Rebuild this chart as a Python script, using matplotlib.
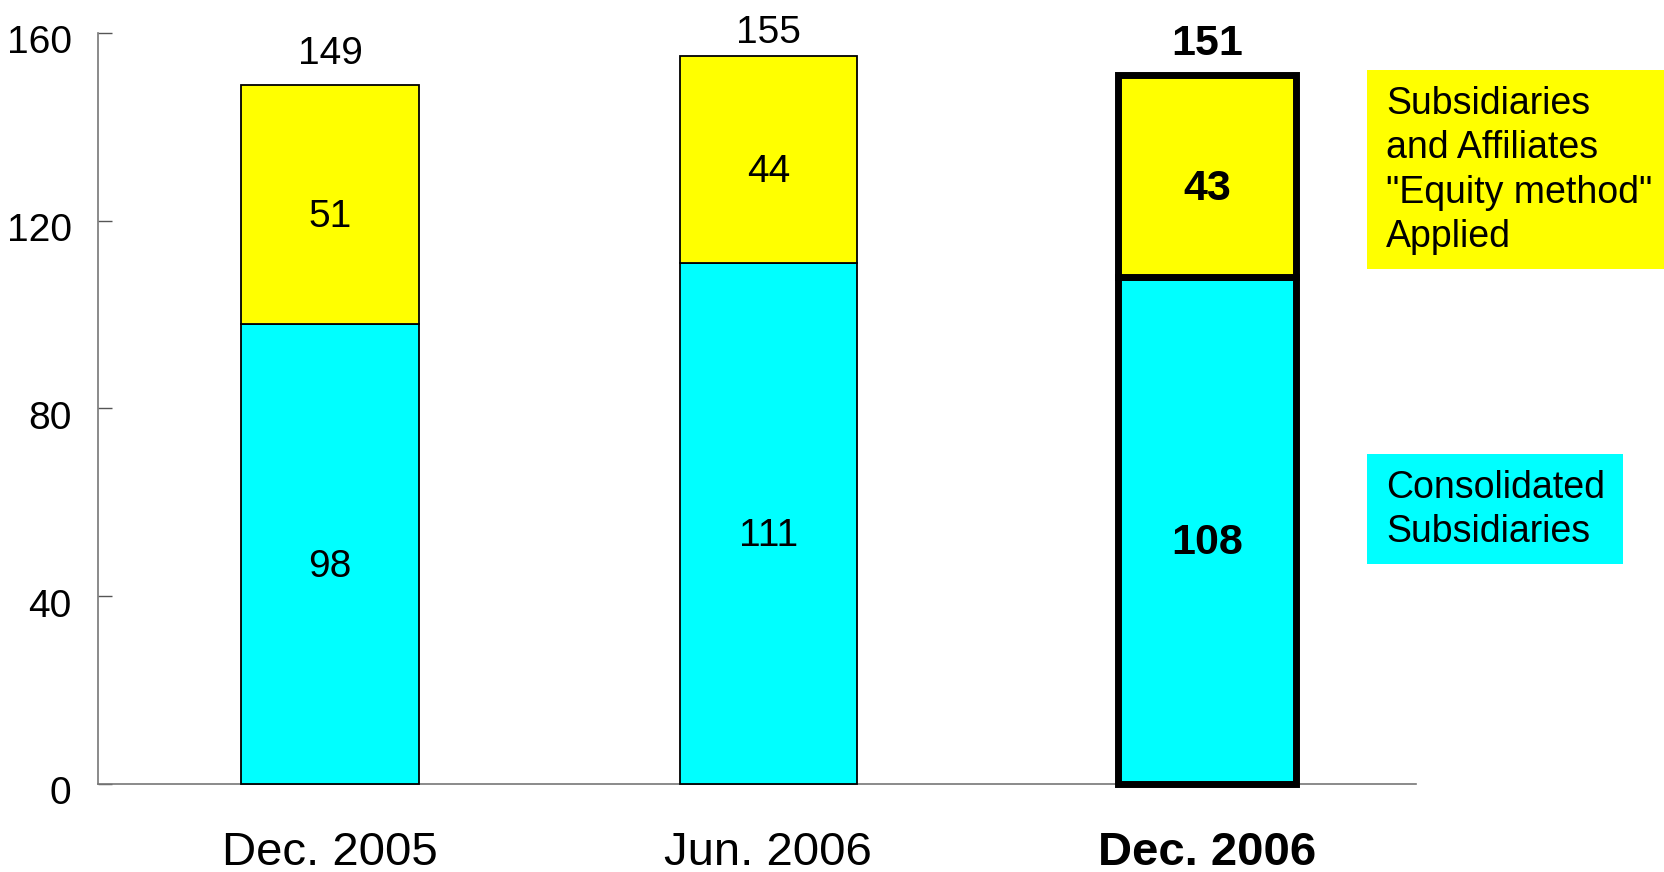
import matplotlib.pyplot as plt
import matplotlib.transforms as mtransforms
from matplotlib.patches import Rectangle

plt.rcParams['font.family'] = ['Liberation Sans', 'DejaVu Sans']

# data
periods = ["Dec. 2005", "Jun. 2006", "Dec. 2006"]
consolidated = [98, 111, 108]
equity_method = [51, 44, 43]
totals = [149, 155, 151]

label_lift = [9, 4, 8]          # points above bar top for total labels
bar_width = 0.405

yellow = "#FFFF00"
cyan = "#00FFFF"

W, H = 1665, 872
fig = plt.figure(figsize=(W / 100, H / 100), dpi=100)
ax = fig.add_axes([98 / W, 1 - 784 / H, (1416 - 98) / W, (784 - 33) / H])

x = list(range(len(periods)))
for i in x:
    last = i == len(periods) - 1
    lw = 5 if last else 1.3
    weight = "bold" if last else "normal"
    inner_fs = 31 if last else 28

    ax.bar(i, consolidated[i], width=bar_width, color=cyan,
           edgecolor="black", linewidth=lw, clip_on=False, zorder=3)
    ax.bar(i, equity_method[i], bottom=consolidated[i], width=bar_width,
           color=yellow, edgecolor="black", linewidth=lw, clip_on=False, zorder=3)

    ax.annotate(str(consolidated[i]), (i, consolidated[i] / 2), xytext=(0, -9),
                textcoords="offset points", ha="center", va="center",
                fontsize=inner_fs, fontweight=weight, zorder=4)
    ax.annotate(str(equity_method[i]), (i, consolidated[i] + equity_method[i] / 2),
                xytext=(0, -9), textcoords="offset points", ha="center", va="center",
                fontsize=inner_fs, fontweight=weight, zorder=4)
    ax.annotate(str(totals[i]), (i, totals[i]), xytext=(0, label_lift[i]),
                textcoords="offset points", ha="center", va="bottom",
                fontsize=inner_fs, fontweight=weight, annotation_clip=False)

ax.set_xlim(-0.529, 2.477)
ax.set_ylim(0, 160)
ax.set_yticks([0, 40, 80, 120, 160])
ax.tick_params(axis="y", direction="in", length=10, width=1, color="#555555",
               labelsize=28, pad=19)
ax.set_xticks([])

# nudge the y tick labels a little below their ticks
shift = mtransforms.ScaledTranslation(0, -4.5 / 72, fig.dpi_scale_trans)
for lbl in ax.get_yticklabels():
    lbl.set_transform(lbl.get_transform() + shift)

for s in ["top", "right"]:
    ax.spines[s].set_visible(False)
for s in ["left", "bottom"]:
    ax.spines[s].set_color("#777777")
    ax.spines[s].set_linewidth(1.2)

# category labels below the axis
for i, name in enumerate(periods):
    ax.annotate(name, (i, 0), xytext=(0, -34), textcoords="offset points",
                ha="center", va="top", fontsize=34,
                fontweight="bold" if i == len(periods) - 1 else "normal",
                annotation_clip=False)

# legend boxes on the right
fig.patches.append(Rectangle((1367 / W, 1 - 269 / H), (W - 1367) / W, (269 - 70) / H,
                             transform=fig.transFigure, facecolor=yellow,
                             edgecolor="none", zorder=0))
fig.text(1386 / W, 1 - 86 / H,
         'Subsidiaries\nand Affiliates\n"Equity method"\nApplied',
         ha="left", va="top", fontsize=27, linespacing=1.3)

fig.patches.append(Rectangle((1367 / W, 1 - 564 / H), (1623 - 1367) / W, (564 - 454) / H,
                             transform=fig.transFigure, facecolor=cyan,
                             edgecolor="none", zorder=0))
fig.text(1386 / W, 1 - 470 / H, "Consolidated\nSubsidiaries",
         ha="left", va="top", fontsize=27, linespacing=1.3)

fig.savefig("out.png", dpi=100)
